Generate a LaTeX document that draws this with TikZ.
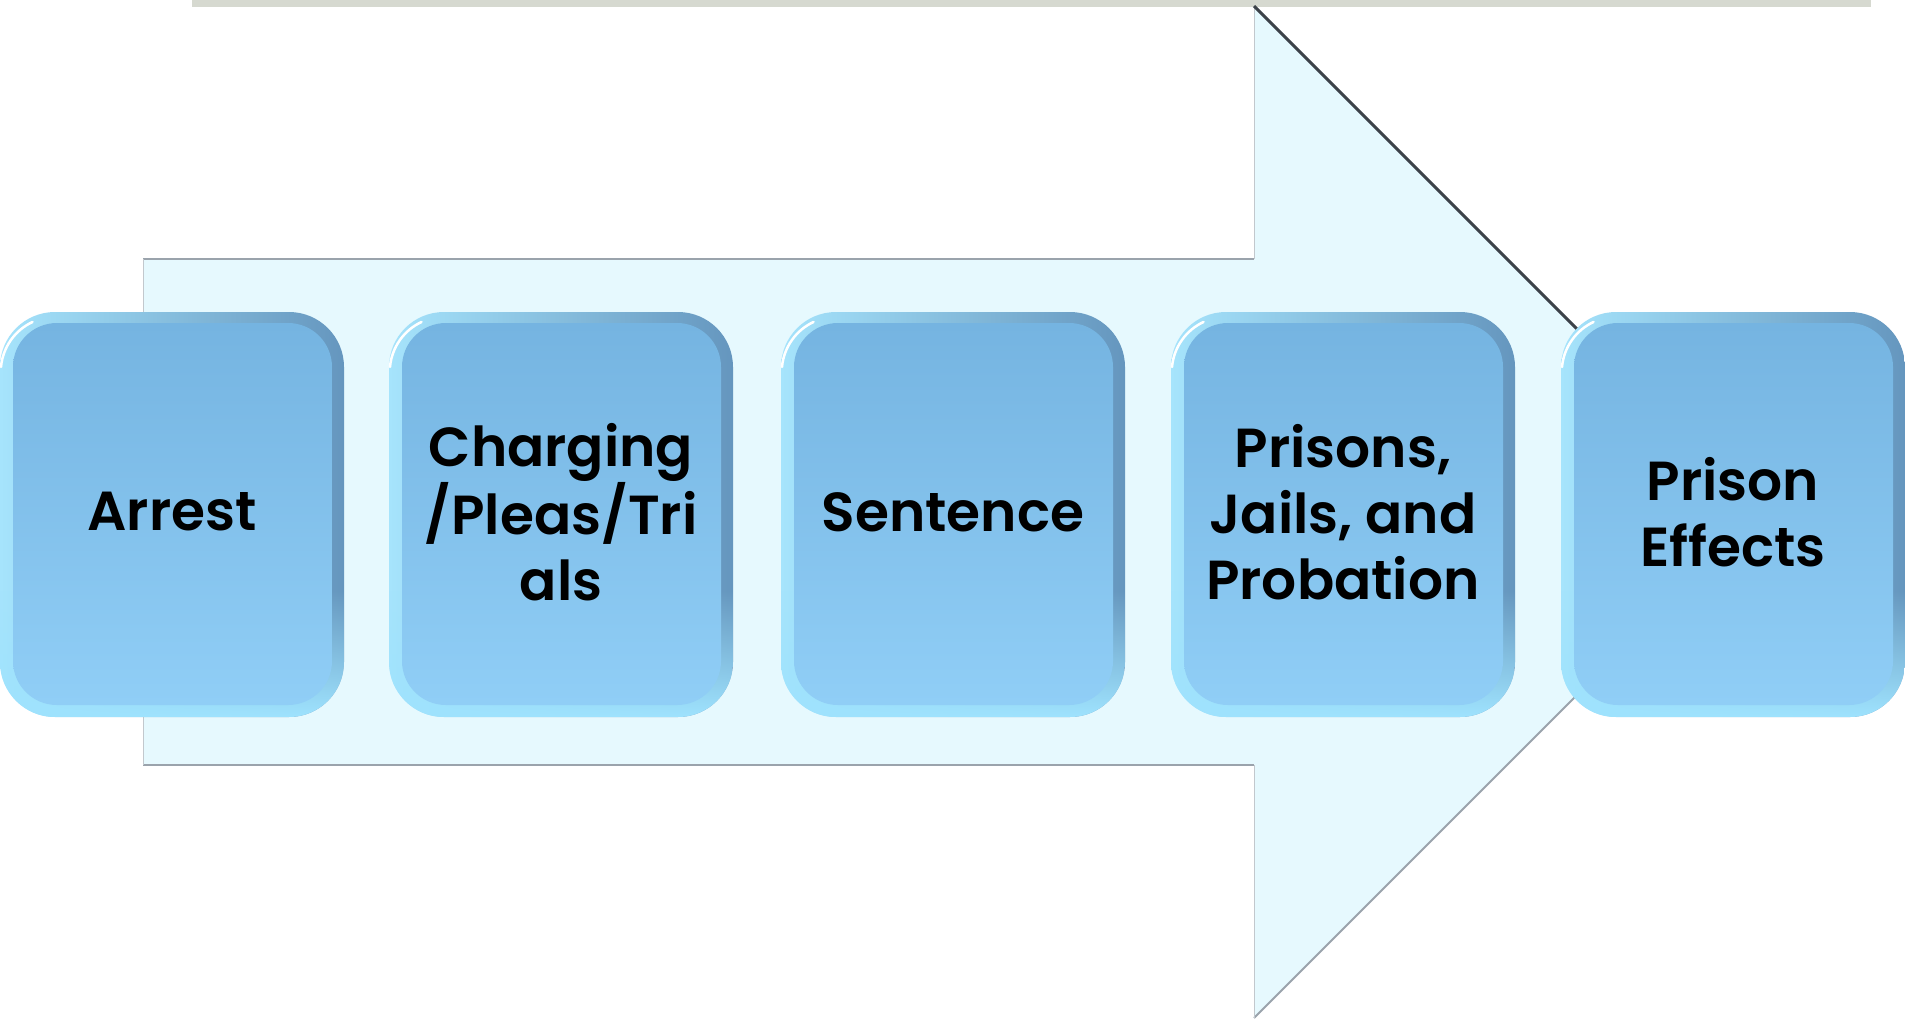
\documentclass[tikz,border=0pt]{standalone}
\usepackage{fontspec}
\setmainfont{Poppins}[BoldFont={Poppins SemiBold}]
\usetikzlibrary{fadings}
\definecolor{barcol}{HTML}{D6D9D0}
\definecolor{arrowcol}{HTML}{E6F9FE}
\definecolor{edgegray}{HTML}{9AA3AC}
\definecolor{edgedark}{HTML}{3C4249}
\definecolor{bevL}{HTML}{A6E4FC}
\definecolor{bevR}{HTML}{6596BE}
\definecolor{bevB}{HTML}{9FE3FE}
\definecolor{faceT}{HTML}{75B4E1}
\definecolor{faceB}{HTML}{90CEF6}
\tikzset{
  shaftedge/.style={draw=edgegray, line width=2pt},
  thinedge/.style={draw=edgegray!60, line width=1pt},
  headedge/.style={draw=edgedark, line width=3pt},
  loweredge/.style={draw=edgegray, line width=2pt},
  stagetext/.style={align=center, font=\bfseries\fontsize{55}{66}\selectfont, text=black, inner sep=0pt}
}
\newcommand\stagebox[3]{%
  \path[left color=bevL, right color=bevR, rounded corners=55pt] (#2,312) rectangle ++(344,405);
  \begin{scope}
    \clip[rounded corners=55pt] (#2,312) rectangle ++(344,405);
    \fill[bevB, path fading=north] (#2,590) rectangle ++(344,127);
  \end{scope}
  \draw[white, line width=2.5pt, line cap=round] (#2+1,367) arc[start angle=185, end angle=245, radius=55];
  \path[top color=faceT, bottom color=faceB, rounded corners=44pt] (#2+13,323) rectangle ++(319,382);
  \node[stagetext] (#1) at (#2+172,512) {#3};
}
\begin{document}
\begin{tikzpicture}[x=1pt,y=-1pt]
\useasboundingbox (0,0) rectangle (1905,1020);
\fill[white] (0,0) rectangle (1905,1020);
\fill[barcol] (192,0) rectangle (1871,7);
% big arrow
\coordinate (a1) at (143,259);
\coordinate (a2) at (1254,259);
\coordinate (a3) at (1254,6);
\coordinate (a4) at (1760,512);
\coordinate (a5) at (1254,1018);
\coordinate (a6) at (1254,765);
\coordinate (a7) at (143,765);
\fill[arrowcol] (a1) -- (a2) -- (a3) -- (a4) -- (a5) -- (a6) -- (a7) -- cycle;
\draw[shaftedge] (a1) -- (a2);
\draw[thinedge] (a2) -- (a3);
\draw[headedge] (a3) -- (a4);
\draw[loweredge] (a4) -- (a5);
\draw[thinedge] (a5) -- (a6);
\draw[shaftedge] (a6) -- (a7);
\draw[thinedge] (a7) -- (a1);
% stages
\stagebox{b1}{0}{Arrest}
\stagebox{b2}{389}{Charging\\/Pleas/Tri\\als}
\stagebox{b3}{781}{Sentence}
\stagebox{b4}{1171}{Prisons,\\Jails, and\\Probation}
\stagebox{b5}{1561}{Prison\\Effects}
\end{tikzpicture}
\end{document}
